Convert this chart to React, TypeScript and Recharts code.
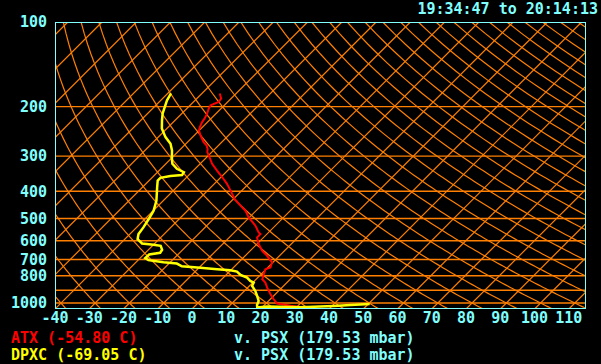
import React from 'react';
import { ComposedChart, Line, XAxis, YAxis } from 'recharts';

// ---- axis ticks ----
const xTicks = [-40, -30, -20, -10, 0, 10, 20, 30, 40, 50, 60, 70, 80, 90, 100, 110];
const yTicks = [100, 200, 300, 400, 500, 600, 700, 800, 1000];
const isobarLevels = [200, 300, 400, 500, 600, 700, 800, 900, 1000];
const isothermTemps = [-130, -120, -110, -100, -90, -80, -70, -60, -50, -40, -30, -20, -10, 0, 10, 20, 30, 40, 50, 60, 70, 80, 90, 100, 110];
const adiabatThetas = [-40, -30, -20, -10, 0, 10, 20, 30, 40, 50, 60, 70, 80, 90, 100, 110, 120, 130, 140, 150, 160, 170, 180, 190, 200, 210, 220, 230, 240, 250, 260, 270, 280, 290, 300, 310, 320];

// ---- profiles (pressure mbar, temperature C) ----
const atxPressure = [179.5, 187.3, 192.6, 197.9, 203.3, 211.8, 220.7, 227.0, 236.5, 243.0, 253.2, 267.6, 274.9, 282.5, 290.5, 302.7, 319.6, 337.7, 356.8, 376.7, 398.0, 426.2, 450.3, 469.2, 495.7, 530.6, 560.7, 568.1, 584.2, 616.9, 651.8, 679.2, 697.9, 717.6, 747.8, 757.7, 789.5, 822.6, 845.9, 881.4, 930.5, 969.6, 1003.6, 1021.9, 1032.9, 1038.9];
const atxTemp = [-54.8, -52.9, -52.6, -54.0, -53.6, -52.6, -51.9, -51.6, -50.8, -50.1, -48.2, -45.3, -43.5, -42.2, -41.3, -39.2, -36.5, -33.1, -29.6, -26.3, -23.3, -19.7, -16.0, -13.1, -10.2, -5.8, -2.9, -1.9, -1.9, 0.5, 3.5, 6.4, 8.1, 9.8, 10.8, 9.8, 10.8, 11.8, 13.7, 15.7, 18.6, 21.0, 23.2, 27.8, 31.1, 33.2];

const dpxcPressure = [179.5, 189.9, 200.7, 211.8, 223.9, 239.1, 256.8, 271.1, 286.5, 306.7, 319.6, 333.0, 342.4, 350.4, 353.3, 358.6, 366.6, 387.3, 432.2, 469.2, 502.3, 538.1, 568.1, 592.0, 613.8, 620.4, 625.5, 646.5, 662.6, 672.0, 692.2, 703.6, 715.3, 723.5, 740.4, 749.6, 757.7, 763.9, 772.8, 794.0, 811.9, 834.2, 845.9, 869.2, 905.6, 943.7, 983.2, 1016.1, 1037.2, 1028.7, 1035.5, 1024.5, 1016.1, 1007.8];
const dpxcTemp = [-69.05, -68.2, -66.9, -65.6, -63.8, -61.5, -57.9, -54.5, -52.1, -49.7, -48.1, -45.3, -42.3, -42.0, -45.1, -47.5, -47.5, -45.7, -42.0, -39.9, -38.9, -38.0, -37.5, -36.3, -33.7, -30.0, -27.6, -26.0, -25.7, -28.4, -28.5, -27.0, -22.0, -17.7, -15.4, -9.6, -4.3, -0.1, 2.2, 4.2, 6.9, 8.8, 10.3, 10.8, 13.2, 15.2, 17.1, 17.8, 18.6, 21.2, 31.2, 40.5, 45.1, 50.4];

const timeLabel = '19:34:47 to 20:14:13';
const atxLabel = 'ATX (-54.80 C)';
const dpxcLabel = 'DPXC (-69.05 C)';
const vsLabel = 'v. PSX (179.53 mbar)';

// ---- skew-T geometry ----
const X_MIN = -40;
const X_MAX = 115;
const P_TOP = 100;
const P_BASE = 1050;
const SKEW = 82;
const skewX = (t: number, p: number) => t + SKEW * Math.log10(P_BASE / p);

const CYAN = '#80ffff';
const ORANGE = '#ff8000';
const FONT = '"DejaVu Sans Mono", monospace';

const profile = (ps: number[], ts: number[]) => ps.map((p, i) => ({ x: skewX(ts[i], p), p }));

const pLevels: number[] = [];
for (let p = P_TOP; p <= P_BASE; p += 10) pLevels.push(p);

const adiabatData = adiabatThetas.map((th) =>
  pLevels.map((p) => {
    const t = (th + 273.15) * Math.pow(p / 1000, 0.2857) - 273.15;
    return { x: skewX(t, p), p };
  })
);
const isothermData = isothermTemps.map((t) => [
  { x: skewX(t, P_BASE), p: P_BASE },
  { x: skewX(t, P_TOP), p: P_TOP },
]);
const isobarData = isobarLevels.map((p) => [
  { x: X_MIN, p },
  { x: X_MAX, p },
]);
const borderData = [
  [{ x: X_MIN, p: P_TOP }, { x: X_MAX, p: P_TOP }],
  [{ x: X_MAX, p: P_TOP }, { x: X_MAX, p: P_BASE }],
  [{ x: X_MAX, p: P_BASE }, { x: X_MIN, p: P_BASE }],
  [{ x: X_MIN, p: P_BASE }, { x: X_MIN, p: P_TOP }],
];

const tickStyle = { fill: CYAN, fontFamily: FONT, fontWeight: 'bold', fontSize: 15 };

export default function App() {
  return (
    <div style={{ position: 'absolute', left: 0, top: 0, width: 601, height: 364, background: '#000', overflow: 'hidden' }}>
      <ComposedChart width={601} height={364} margin={{ top: 22, right: 15, left: 0, bottom: 25 }}>
        <XAxis
          type="number"
          dataKey="x"
          domain={[X_MIN, X_MAX]}
          allowDataOverflow
          ticks={xTicks}
          interval={0}
          tick={tickStyle}
          tickLine={false}
          axisLine={false}
          tickSize={0}
          tickMargin={3}
          height={30}
        />
        <YAxis
          type="number"
          dataKey="p"
          scale="log"
          domain={[P_TOP, P_BASE]}
          reversed
          allowDataOverflow
          ticks={yTicks}
          interval={0}
          tick={tickStyle}
          tickLine={false}
          axisLine={false}
          tickSize={0}
          tickMargin={8}
          width={55}
        />
        {adiabatData.map((d, i) => (
          <Line key={'ad' + i} data={d} dataKey="p" stroke={ORANGE} strokeWidth={1.2} dot={false} activeDot={false} isAnimationActive={false} />
        ))}
        {isothermData.map((d, i) => (
          <Line key={'it' + i} data={d} dataKey="p" stroke={ORANGE} strokeWidth={1.2} dot={false} activeDot={false} isAnimationActive={false} />
        ))}
        {isobarData.map((d, i) => (
          <Line key={'ib' + i} data={d} dataKey="p" stroke={ORANGE} strokeWidth={1.4} dot={false} activeDot={false} isAnimationActive={false} />
        ))}
        <Line data={profile(atxPressure, atxTemp)} dataKey="p" stroke="#ff0000" strokeWidth={2} dot={false} activeDot={false} isAnimationActive={false} />
        <Line data={profile(dpxcPressure, dpxcTemp)} dataKey="p" stroke="#ffff00" strokeWidth={2.5} dot={false} activeDot={false} isAnimationActive={false} />
        {borderData.map((d, i) => (
          <Line key={'bd' + i} data={d} dataKey="p" stroke={CYAN} strokeWidth={2} dot={false} activeDot={false} isAnimationActive={false} />
        ))}
      </ComposedChart>
      <svg width={601} height={364} style={{ position: 'absolute', left: 0, top: 0, pointerEvents: 'none' }}>
        <g fontFamily={FONT} fontWeight="bold" fontSize={15}>
          <text x={598} y={14} textAnchor="end" fill={CYAN}>{timeLabel}</text>
          <text x={11} y={342.5} fill="#ff0000">{atxLabel}</text>
          <text x={11} y={360} fill="#ffff00">{dpxcLabel}</text>
          <text x={234} y={342.5} fill={CYAN}>{vsLabel}</text>
          <text x={234} y={360} fill={CYAN}>{vsLabel}</text>
        </g>
      </svg>
    </div>
  );
}
